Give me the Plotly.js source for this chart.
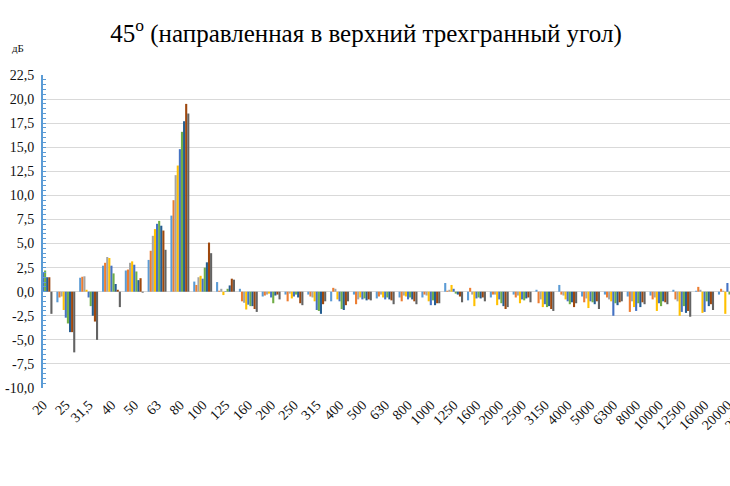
<!DOCTYPE html>
<html>
<head>
<meta charset="utf-8">
<script src="https://cdn.plot.ly/plotly-3.0.1.min.js"></script>
<style>
  html, body { margin: 0; padding: 0; overflow: hidden; background: white; }
</style>
</head>
<body>
<div id="myDiv"></div>
<script>
// 1/3 octave bands (the last label is cut off by the picture edge)
const freqLabels = ["20", "25", "31,5", "40", "50", "63", "80", "100", "125", "160", "200",
    "250", "315", "400", "500", "630", "800", "1000", "1250", "1600", "2000", "2500",
    "3150", "4000", "5000", "6300", "8000", "10000", "12500", "16000", "20000", "25000"];

const s1 = [1.2, -1.1, 1.45, 2.7, 2.2, 3.3, 7.9, 1.05, 1.0, 0.3, -0.5, -0.3, -0.3, -1.0, -0.3, -0.7, -0.6, -0.6, 0.9, -0.9, -0.6, -0.3, 0.2, 0.7, -0.5, -0.3, -0.5, -0.4, 0.2, 0.1, -0.3];
const s2 = [0.8, -0.6, 1.55, 3.0, 2.3, 4.25, 9.5, 0.7, 0.1, -1.0, -0.4, -1.0, -0.5, 0.4, -1.3, -0.5, -1.0, -0.3, 0.1, 0.4, -0.3, -0.6, -1.2, -0.3, -1.1, -0.6, -2.1, -0.8, -0.8, 0.5, 0.3];
const s3 = [1.4, -0.5, 1.6, 3.6, 3.0, 5.8, 12.1, 1.5, 0.3, -1.15, -0.3, -0.2, -0.6, 0.3, -0.8, -0.3, -0.4, -0.4, 0.2, -0.3, -0.3, -0.4, -0.8, -0.4, -0.7, -0.8, -1.0, -0.6, -1.0, 0.2, 0.1];
const s4 = [1.8, -1.9, 0.2, 3.5, 3.15, 6.5, 13.1, 1.65, -0.35, -1.85, -0.2, -0.7, -1.0, -0.8, -0.6, -0.6, -0.5, -1.0, 0.7, -1.5, -1.4, -1.2, -1.6, -0.8, -1.7, -1.0, -1.6, -2.0, -2.5, -2.2, -2.3];
const s5 = [2.0, -2.7, -0.6, 2.7, 2.8, 7.05, 14.8, 1.35, 0.05, -1.35, -0.6, -0.5, -1.9, -1.0, -0.8, -0.8, -0.8, -1.4, 0.3, -0.7, -0.8, -0.8, -1.3, -1.0, -1.0, -2.5, -2.0, -1.2, -2.1, -2.1, 0.9];
const s6 = [2.2, -3.3, -1.5, 1.9, 2.1, 7.35, 16.6, 2.5, 0.3, -1.5, -1.2, -0.3, -2.0, -1.8, -0.7, -0.6, -0.6, -0.9, -0.2, -0.6, -1.2, -0.9, -1.6, -1.3, -1.1, -1.2, -1.2, -1.5, -1.5, -1.0, -0.3];
const s7 = [1.5, -4.2, -2.5, 0.8, 1.2, 6.85, 17.7, 3.05, 0.65, -1.5, -0.4, -0.6, -2.3, -1.9, -0.9, -0.8, -0.8, -1.4, -0.3, -0.7, -1.5, -0.7, -1.5, -1.1, -1.3, -1.4, -1.6, -1.0, -2.2, -1.5, -0.5];
const s8 = [1.5, -4.2, -3.1, 0.2, 1.4, 6.35, 19.5, 5.1, 1.35, -1.8, -0.3, -1.2, -1.3, -1.4, -0.8, -0.9, -1.0, -1.2, -0.5, -0.6, -1.8, -0.6, -1.8, -1.6, -1.0, -1.1, -1.1, -1.1, -2.0, -1.3, -0.6];
const s9 = [-2.3, -6.3, -5.0, -1.6, -0.1, 4.35, 18.5, 4.0, 1.25, -2.1, -0.8, -1.4, -1.0, -1.0, -0.9, -1.3, -1.3, -1.2, -1.1, -1.0, -1.6, -1.1, -2.0, -1.2, -1.8, -1.0, -1.3, -1.3, -2.6, -1.9, -0.8];

const yTickVals = [-10, -7.5, -5, -2.5, 0, 2.5, 5, 7.5, 10, 12.5, 15, 17.5, 20, 22.5];
const yTickText = ["-10,0", "-7,5", "-5,0", "-2,5", "0,0", "2,5", "5,0", "7,5", "10,0", "12,5", "15,0", "17,5", "20,0", "22,5"];

const series = [s1, s2, s3, s4, s5, s6, s7, s8, s9];
const colors = ["#5B9BD5", "#ED7D31", "#A5A5A5", "#FFC000", "#4472C4", "#70AD47", "#255E91", "#9E480E", "#636363"];

const xIdx = s1.map((_, i) => i);

const data = series.map((vals, k) => ({
    type: "bar",
    name: "Ряд" + (k + 1),
    x: xIdx,
    y: vals,
    marker: { color: colors[k] },
    hoverinfo: "none",
}));

const serif = "Liberation Serif";

// figure is wider than the window on purpose: the source chart runs past the right edge
const W = 773, H = 486;

const layout = {
    width: W,
    height: H,
    margin: { l: 43, r: 10, t: 75, b: 98 },
    paper_bgcolor: "white",
    plot_bgcolor: "white",
    showlegend: false,
    barmode: "group",
    bargap: 0.17,
    bargroupgap: 0,
    font: { family: serif, size: 13, color: "#111" },
    title: {
        text: "45<sup>o</sup> (направленная в верхний трехгранный угол)",
        font: { family: serif, size: 25, color: "#000" },
        xref: "container",
        x: 366 / W,
        xanchor: "center",
        yref: "container",
        y: 1 - 33 / H,
        yanchor: "middle",
    },
    xaxis: {
        range: [0, 31.56],
        tickvals: freqLabels.map((_, i) => i),
        ticktext: freqLabels,
        tickangle: -45,
        ticks: "",
        ticklabelstandoff: 5,
        showgrid: false,
        zeroline: false,
        showline: false,
        tickfont: { family: serif, size: 14, color: "#111" },
    },
    yaxis: {
        range: [-10, 22.5],
        tickvals: yTickVals,
        ticktext: yTickText,
        showgrid: true,
        gridcolor: "#D9D9D9",
        gridwidth: 1,
        zeroline: true,
        zerolinecolor: "#D9D9D9",
        zerolinewidth: 1,
        showline: true,
        linecolor: "#5B9BD5",
        linewidth: 2,
        ticks: "inside",
        ticklen: 3,
        tickcolor: "#5B9BD5",
        tickwidth: 1,
        ticklabelstandoff: 4,
        minor: { dtick: 0.5, ticks: "inside", ticklen: 3, tickcolor: "#5B9BD5", showgrid: false },
        tickfont: { family: serif, size: 14, color: "#111" },
    },
    annotations: [
        {
            text: "дБ",
            xref: "paper",
            yref: "paper",
            x: (18 - 43) / (W - 53),
            y: 1 + (75 - 48) / 313,
            showarrow: false,
            xanchor: "center",
            yanchor: "middle",
            font: { family: serif, size: 11, color: "#111" },
        },
    ],
};

Plotly.newPlot("myDiv", data, layout, { displayModeBar: false, staticPlot: true });
</script>
</body>
</html>
